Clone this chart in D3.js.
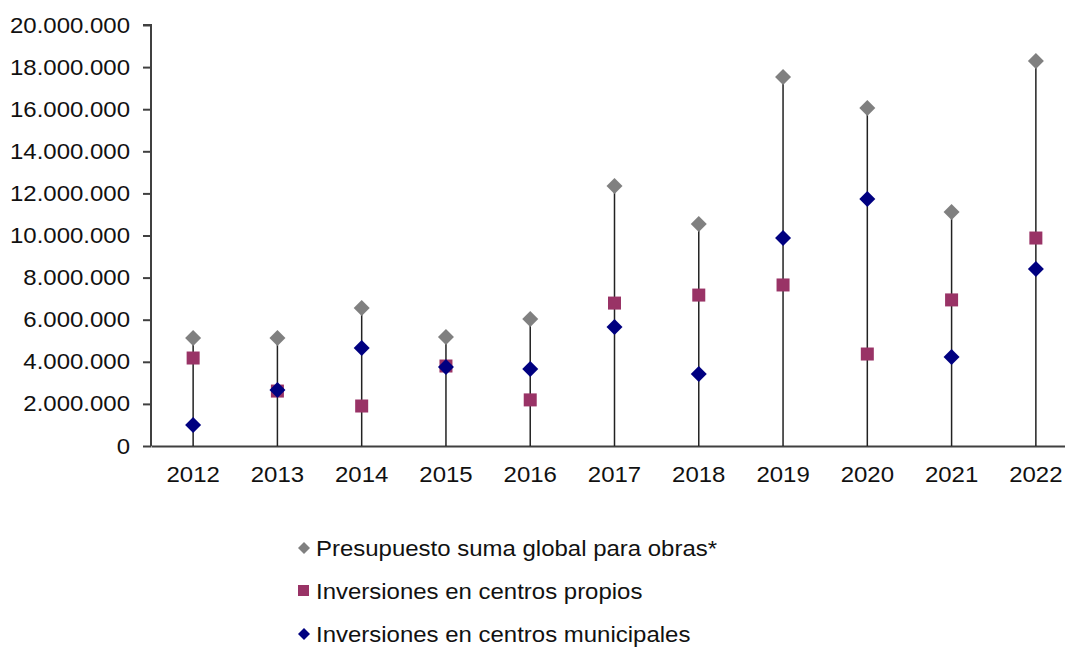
<!DOCTYPE html>
<html><head><meta charset="utf-8">
<script src="https://cdn.jsdelivr.net/npm/d3@7"></script>
<style>body{margin:0;background:#fff;}svg{display:block;font-family:"Liberation Sans",Arial,sans-serif;}</style>
</head><body>
<svg id="c" width="1065" height="648"></svg>
<script>
const years = ["2012","2013","2014","2015","2016","2017","2018","2019","2020","2021","2022"];
const presupuesto = [5130000,5130000,6550000,5180000,6030000,12350000,10550000,17530000,16060000,11120000,18290000];
const propios = [4180000,2610000,1900000,3800000,2190000,6790000,7170000,7650000,4370000,6940000,9880000];
const municipales = [1000000,2660000,4660000,3750000,3660000,5650000,3420000,9880000,11730000,4230000,8410000];
const yTicks = [0,2000000,4000000,6000000,8000000,10000000,12000000,14000000,16000000,18000000,20000000];
const seriesNames = ["Presupuesto suma global para obras*","Inversiones en centros propios","Inversiones en centros municipales"];

const SX = 1.09;
const svg = d3.select("#c");
const x = d3.scaleBand().domain(years).range([151, 1078]);
const y = d3.scaleLinear().domain([0, 20000000]).range([446, 25]);
const fmt = v => d3.format(",")(v).replace(/,/g, ".");

// y axis
const ya = svg.append("g").attr("transform","translate(151,0)")
  .call(d3.axisLeft(y).tickValues(yTicks).tickSize(8).tickPadding(14).tickFormat(fmt));
ya.select(".domain").attr("stroke","#404040").attr("stroke-width",2).attr("d","M-8,25H0V446");
ya.selectAll(".tick line").attr("stroke","#404040").attr("stroke-width",2);
ya.selectAll("text").attr("font-size",22).attr("fill","#111").attr("font-family","Liberation Sans, Arial, sans-serif")
  .attr("x",0).attr("transform",`translate(-21,0) scale(${SX},1)`);

// x axis
const xa = svg.append("g").attr("transform","translate(0,446)")
  .call(d3.axisBottom(x).tickSize(0).tickPadding(20));
xa.select(".domain").attr("stroke","#404040").attr("stroke-width",2);
xa.selectAll("text").attr("font-size",22).attr("fill","#111").attr("font-family","Liberation Sans, Arial, sans-serif")
  .attr("transform",`scale(${SX},1)`);

const cx = d => x(d) + x.bandwidth()/2;

// drop lines
svg.append("g").selectAll("line").data(years).join("line")
  .attr("x1", cx).attr("x2", cx)
  .attr("y1", (d,i) => y(presupuesto[i])).attr("y2", y(0))
  .attr("stroke","#222").attr("stroke-width",1.5);

const diamond = s => `M0,${-s}L${s},0L0,${s}L${-s},0Z`;

// propios squares
svg.append("g").selectAll("rect").data(years).join("rect")
  .attr("x", d => cx(d) - 6.5).attr("y", (d,i) => y(propios[i]) - 6.5)
  .attr("width",13).attr("height",13).attr("fill","#993366");
// municipales diamonds
svg.append("g").selectAll("path").data(years).join("path")
  .attr("transform",(d,i)=>`translate(${cx(d)},${y(municipales[i])})`)
  .attr("d", diamond(8)).attr("fill","#000080");
// presupuesto diamonds
svg.append("g").selectAll("path").data(years).join("path")
  .attr("transform",(d,i)=>`translate(${cx(d)},${y(presupuesto[i])})`)
  .attr("d", diamond(8)).attr("fill","#808080");

// legend
const lg = svg.append("g");
const ly = [548, 591, 634];
lg.append("path").attr("transform",`translate(304,${ly[0]})`).attr("d",diamond(6)).attr("fill","#808080");
lg.append("rect").attr("x",298).attr("y",ly[1]-6).attr("width",11).attr("height",11).attr("fill","#993366");
lg.append("path").attr("transform",`translate(304,${ly[2]})`).attr("d",diamond(6)).attr("fill","#000080");
lg.selectAll("text").data(seriesNames).join("text")
  .attr("x",0).attr("y",0).attr("dy","0.35em")
  .attr("transform",(d,i)=>`translate(316,${ly[i]}) scale(${SX},1)`)
  .attr("font-size",22).attr("fill","#111").text(d=>d);
</script>
</body></html>
